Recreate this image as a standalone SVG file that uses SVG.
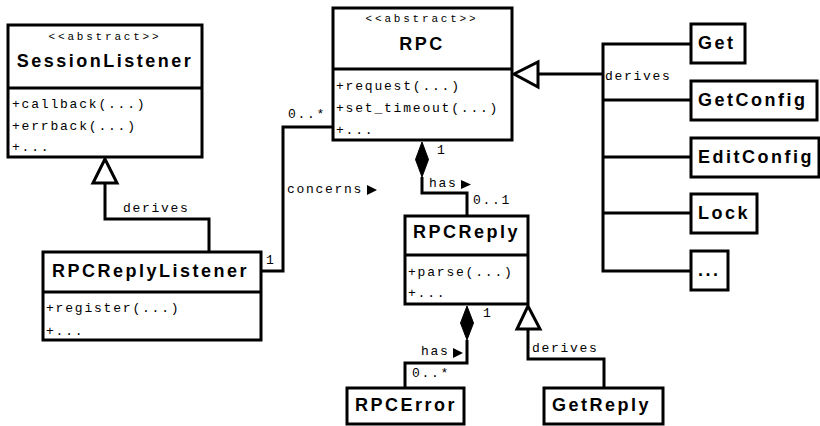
<svg xmlns="http://www.w3.org/2000/svg" width="820" height="426" viewBox="0 0 820 426">
<style>
.box{fill:#fff;stroke:#000;stroke-width:3}
.div{stroke:#000;stroke-width:3}
.name{font-family:"Liberation Sans",Arial,sans-serif;font-weight:bold;font-size:18px;letter-spacing:2.5px;fill:#000}
.ster{font-family:"Liberation Mono","Courier New",monospace;font-size:11px;letter-spacing:2.8px;fill:#000}
.meth{font-family:"Liberation Mono","Courier New",monospace;font-size:13px;letter-spacing:1.8px;fill:#000}
.lbl{font-family:"Liberation Mono","Courier New",monospace;font-size:13px;letter-spacing:1.7px;fill:#000}
.ln{fill:none;stroke:#000;stroke-width:3}
.tri{fill:#fff;stroke:#000;stroke-width:3}
.dia{fill:#000;stroke:#000;stroke-width:1}
.arr{fill:#000}
</style>
<g id="connectors">
  <!-- SessionListener <- RPCReplyListener -->
  <polyline class="ln" points="105,183 105,219 209,219 209,252"/>
  <polygon class="tri" points="105,159 93,183 117,183"/>
  <text class="lbl" x="123" y="212">derives</text>
  <!-- concerns -->
  <polyline class="ln" points="261,271 283,271 283,127 333,127"/>
  <text class="lbl" x="288" y="118">0..*</text>
  <text class="lbl" x="266" y="264">1</text>
  <text class="lbl" x="287" y="193">concerns</text>
  <polygon class="arr" points="367,185 377,190 367,195"/>
  <!-- RPC has RPCReply -->
  <polyline class="ln" points="422,177 422,193 467,193 467,216"/>
  <polygon class="dia" points="422,142 428.5,159.5 422,177 415.5,159.5"/>
  <text class="lbl" x="437" y="154">1</text>
  <text class="lbl" x="429" y="187">has</text>
  <polygon class="arr" points="461,180 471,184.5 461,189"/>
  <text class="lbl" x="473" y="204">0..1</text>
  <!-- RPC <- commands -->
  <polyline class="ln" points="538,74 603,74"/>
  <polyline class="ln" points="691,44 603,44 603,271 691,271"/>
  <line class="ln" x1="603" y1="100" x2="691" y2="100" stroke-width="2.5"/>
  <line class="ln" x1="603" y1="157" x2="691" y2="157" stroke-width="2.5"/>
  <line class="ln" x1="603" y1="213" x2="691" y2="213" stroke-width="2.5"/>
  <polygon class="tri" points="514,74 538,62 538,87"/>
  <text class="lbl" x="605" y="80">derives</text>
  <!-- RPCReply has RPCError -->
  <polyline class="ln" points="467,340 467,363 405,363 405,388"/>
  <polygon class="dia" points="467,306 473.5,323 467,340 460.5,323"/>
  <text class="lbl" x="483" y="317">1</text>
  <text class="lbl" x="421" y="355">has</text>
  <polygon class="arr" points="453,348 463,353 453,358"/>
  <text class="lbl" x="412" y="377">0..*</text>
  <!-- RPCReply <- GetReply -->
  <polyline class="ln" points="528,329 528,359 604,359 604,388"/>
  <polygon class="tri" points="528,306 517,329 540,329"/>
  <text class="lbl" x="532" y="352">derives</text>
</g>
<g id="SessionListener">
  <rect class="box" x="8" y="25" width="194" height="132"/>
  <line class="div" x1="8" y1="88" x2="202" y2="88"/>
  <text class="ster" x="105" y="40" text-anchor="middle">&lt;&lt;abstract&gt;&gt;</text>
  <text class="name" x="105" y="67" text-anchor="middle">SessionListener</text>
  <text class="meth" x="12" y="108">+callback(...)</text>
  <text class="meth" x="12" y="130">+errback(...)</text>
  <text class="meth" x="12" y="151">+...</text>
</g>
<g id="RPC">
  <rect class="box" x="333" y="8" width="179" height="132"/>
  <line class="div" x1="333" y1="69" x2="512" y2="69"/>
  <text class="ster" x="422" y="22" text-anchor="middle">&lt;&lt;abstract&gt;&gt;</text>
  <text class="name" x="422" y="50" text-anchor="middle">RPC</text>
  <text class="meth" x="336" y="90">+request(...)</text>
  <text class="meth" x="336" y="112">+set_timeout(...)</text>
  <text class="meth" x="336" y="134">+...</text>
</g>
<g id="RPCReplyListener">
  <rect class="box" x="43" y="252" width="218" height="88"/>
  <line class="div" x1="43" y1="292" x2="261" y2="292"/>
  <text class="name" x="52" y="277">RPCReplyListener</text>
  <text class="meth" x="46" y="312">+register(...)</text>
  <text class="meth" x="46" y="335">+...</text>
</g>
<g id="RPCReply">
  <rect class="box" x="405" y="216" width="123" height="88"/>
  <line class="div" x1="405" y1="255" x2="528" y2="255"/>
  <text class="name" x="413" y="238">RPCReply</text>
  <text class="meth" x="408" y="276">+parse(...)</text>
  <text class="meth" x="408" y="297">+...</text>
</g>
<g id="Get">
  <rect class="box" x="691" y="24" width="54" height="39"/>
  <text class="name" x="698" y="49">Get</text>
</g>
<g id="GetConfig">
  <rect class="box" x="691" y="81" width="126" height="39"/>
  <text class="name" x="698" y="106">GetConfig</text>
</g>
<g id="EditConfig">
  <rect class="box" x="691" y="138" width="128" height="39"/>
  <text class="name" x="698" y="163">EditConfig</text>
</g>
<g id="Lock">
  <rect class="box" x="691" y="194" width="66" height="39"/>
  <text class="name" x="698" y="219">Lock</text>
</g>
<g id="More">
  <rect class="box" x="691" y="251" width="37" height="39"/>
  <text class="name" x="698" y="276">...</text>
</g>
<g id="RPCError">
  <rect class="box" x="347" y="388" width="117" height="36"/>
  <text class="name" x="355" y="411">RPCError</text>
</g>
<g id="GetReply">
  <rect class="box" x="544" y="388" width="119" height="36"/>
  <text class="name" x="552" y="411">GetReply</text>
</g>
</svg>
